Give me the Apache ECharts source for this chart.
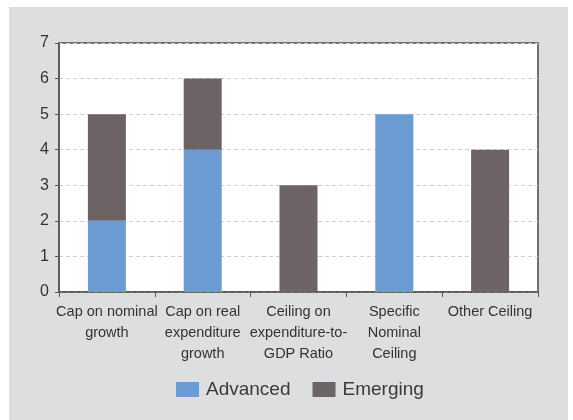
<!DOCTYPE html>
<html>
<head>
<meta charset="utf-8">
<script src="https://cdn.jsdelivr.net/npm/echarts@6/dist/echarts.min.js"></script>
<style>
html,body{margin:0;padding:0;background:#fff;}
#c{width:573px;height:420px;}
</style>
</head>
<body>
<div id="c"></div>
<script>
var categories = ['Cap on nominal\ngrowth', 'Cap on real\nexpenditure\ngrowth', 'Ceiling on\nexpenditure-to-\nGDP Ratio', 'Specific\nNominal\nCeiling', 'Other Ceiling'];
var advanced = [2, 4, 0, 5, 0];
var emerging = [3, 2, 3, 0, 4];
var yTicks = [0, 1, 2, 3, 4, 5, 6, 7];

var chart = echarts.init(document.getElementById('c'), null, {renderer: 'canvas'});
chart.setOption({
  animation: false,
  textStyle: {fontFamily: 'Liberation Sans, Arial, sans-serif'},
  graphic: [{
    type: 'rect', z: -10, silent: true,
    shape: {x: 9, y: 7, width: 559, height: 413},
    style: {fill: '#dddee0'}
  }],
  grid: {
    left: 59, top: 43, right: 35, bottom: 128,
    show: true, backgroundColor: '#ffffff', borderColor: '#4a4a4a', borderWidth: 1.5
  },
  legend: {
    top: 375, left: 171,
    itemWidth: 23, itemHeight: 15, itemGap: 22,
    textStyle: {fontSize: 19, color: '#3a3a3a', padding: [0, 0, 0, 2]},
    icon: 'rect',
    data: ['Advanced', 'Emerging']
  },
  xAxis: {
    type: 'category',
    data: categories,
    axisLine: {lineStyle: {color: '#555', width: 1.5}},
    axisTick: {show: true, length: 5, lineStyle: {color: '#555'}},
    axisLabel: {fontSize: 14.5, color: '#333', lineHeight: 21, margin: 9, interval: 0}
  },
  yAxis: {
    type: 'value',
    min: yTicks[0], max: yTicks[yTicks.length - 1], interval: 1,
    axisLine: {show: true, lineStyle: {color: '#555', width: 1.5}},
    axisTick: {show: true, length: 4, lineStyle: {color: '#555'}},
    axisLabel: {fontSize: 16, color: '#333', margin: 10},
    splitLine: {show: true, lineStyle: {color: '#cfcfcf', type: [4, 3]}}
  },
  series: [
    {name: 'Advanced', type: 'bar', stack: 's', data: advanced, barWidth: 38, itemStyle: {color: '#6b9bd2'}},
    {name: 'Emerging', type: 'bar', stack: 's', data: emerging, barWidth: 38, itemStyle: {color: '#6c6464'}}
  ]
});
</script>
</body>
</html>
